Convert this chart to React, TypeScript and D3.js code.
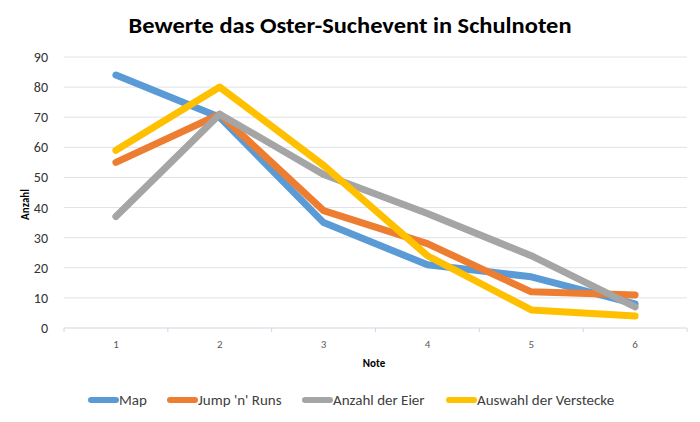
import React from "react";
import * as d3 from "d3";

const categories = ["1", "2", "3", "4", "5", "6"];
const seriesNames = ["Map", "Jump 'n' Runs", "Anzahl der Eier", "Auswahl der Verstecke"];
const mapValues = [84, 70, 35, 21, 17, 8];
const jumpValues = [55, 71, 39, 28, 12, 11];
const eierValues = [37, 71, 51, 38, 24, 7];
const versteckeValues = [59, 80, 54, 24, 6, 4];
const yTicks = [0, 10, 20, 30, 40, 50, 60, 70, 80, 90];
const colors = ["#5B9BD5", "#ED7D31", "#A5A5A5", "#FFC000"];

const W = 700, H = 422;
const left = 64, right = 687, top = 57, bottom = 328;

export default function App() {
  const series = [mapValues, jumpValues, eierValues, versteckeValues];
  const x = d3.scaleBand<string>().domain(categories).range([left, right]);
  const y = d3.scaleLinear().domain([0, 90]).range([bottom, top]);
  const line = d3
    .line<number>()
    .x((_, i) => (x(categories[i]) as number) + x.bandwidth() / 2)
    .y((d) => y(d));
  const font = "Calibri, Carlito, Lato, 'Open Sans', sans-serif";
  const legendX = [88, 167, 302, 446];
  const legendY = 400;
  return (
    <svg
      width={W}
      height={H}
      style={{ position: "absolute", left: 0, top: 0, background: "#fff" }}
      fontFamily={font}
    >
      <text
        x={350}
        y={33}
        textAnchor="middle"
        fontSize={22}
        fontWeight="bold"
        fill="#000"
        textLength={443}
        lengthAdjust="spacingAndGlyphs"
      >
        Bewerte das Oster-Suchevent in Schulnoten
      </text>
      {yTicks.map((t) => (
        <g key={t}>
          <line x1={left} x2={right} y1={y(t)} y2={y(t)} stroke={t === 0 ? "#D0D7E0" : "#DDE3EA"} strokeWidth={1} />
          <text x={48} y={y(t) + 5} textAnchor="end" fontSize={14} fill="#333">
            {t}
          </text>
        </g>
      ))}
      {categories.map((c, i) => (
        <line key={"tk" + i} x1={x(c) as number} x2={x(c) as number} y1={bottom} y2={bottom + 4} stroke="#D0D7E0" />
      ))}
      <line x1={right} x2={right} y1={bottom} y2={bottom + 4} stroke="#D0D7E0" />
      {categories.map((c) => (
        <text
          key={"xl" + c}
          x={(x(c) as number) + x.bandwidth() / 2}
          y={348}
          textAnchor="middle"
          fontSize={11}
          fill="#595959"
        >
          {c}
        </text>
      ))}
      <text x={374} y={367} textAnchor="middle" fontSize={11} fontWeight="bold" fill="#000">
        Note
      </text>
      <text
        transform={`translate(29,${(top + bottom) / 2 + 12}) rotate(-90)`}
        textAnchor="middle"
        fontSize={11}
        fontWeight="bold"
        fill="#000"
      >
        Anzahl
      </text>
      {series.map((s, i) => (
        <path
          key={"s" + i}
          d={line(s) as string}
          fill="none"
          stroke={colors[i]}
          strokeWidth={7}
          strokeLinecap="round"
          strokeLinejoin="round"
        />
      ))}
      {seriesNames.map((n, i) => (
        <g key={"lg" + i}>
          <line
            x1={legendX[i] + 3}
            x2={legendX[i] + 28}
            y1={legendY}
            y2={legendY}
            stroke={colors[i]}
            strokeWidth={6}
            strokeLinecap="round"
          />
          <text x={legendX[i] + 31} y={legendY + 5} fontSize={15} fill="#404040">
            {n}
          </text>
        </g>
      ))}
    </svg>
  );
}
